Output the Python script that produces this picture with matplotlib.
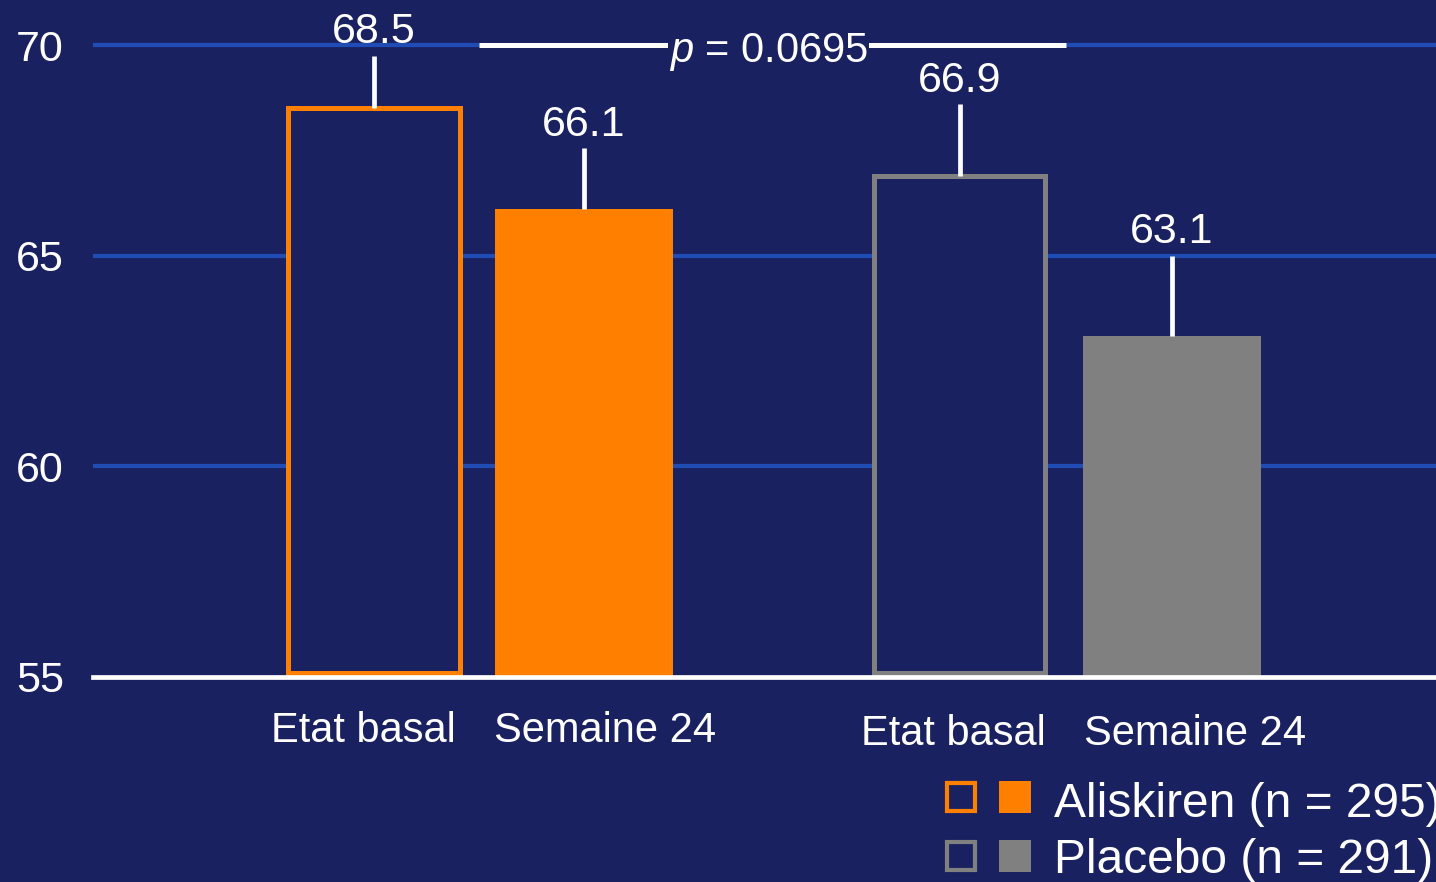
import matplotlib
matplotlib.use("Agg")
import matplotlib.pyplot as plt
from matplotlib.patches import Rectangle

# --- data -------------------------------------------------------------
timepoints = ["Etat basal", "Semaine 24"]
aliskiren_means = [68.5, 66.1]
placebo_means = [66.9, 63.1]
aliskiren_err = [1.25, 1.45]
placebo_err = [1.7, 1.9]
aliskiren_label = "Aliskiren (n = 295)"
placebo_label = "Placebo (n = 291)"
p_text = "$\\it{p}$ = 0.0695"
yticks = [55, 60, 65, 70]

# --- style ------------------------------------------------------------
BG = "#1a2160"
GRID = "#1f4db5"
ORANGE = "#ff8000"
GREY = "#808080"
WHITE = "white"
plt.rcParams["font.family"] = ["Liberation Sans", "DejaVu Sans"]
plt.rcParams["mathtext.fontset"] = "custom"
plt.rcParams["mathtext.it"] = "Liberation Sans:italic"
plt.rcParams["mathtext.rm"] = "Liberation Sans"

W, H = 1436, 882
fig = plt.figure(figsize=(W / 100, H / 100), dpi=100, facecolor=BG)

px_per_unit = 42.13
ax_bottom_px = 677
ax = fig.add_axes([93 / W, (H - ax_bottom_px) / H, 1 - 93 / W, 16 * px_per_unit / H])
ax.set_facecolor(BG)
ax.set_ylim(55, 71)
ax.set_xlim(-1.338, 5.057)

# bar positions: two groups of two
pos_a = [0.0, 1.0]
pos_p = [2.79, 3.8]
w_fill = 0.845
w_open = 0.815

for y in yticks[1:]:
    ax.axhline(y, color=GRID, lw=3.0, zorder=1)

# baseline (open) and week 24 (filled) bars
ax.bar(pos_a[0], aliskiren_means[0] - 55.1, bottom=55.1, width=w_open,
       facecolor=BG, edgecolor=ORANGE, linewidth=3.6, zorder=2)
ax.bar(pos_a[1], aliskiren_means[1] - 55, bottom=55, width=w_fill,
       facecolor=ORANGE, edgecolor="none", zorder=2)
ax.bar(pos_p[0], placebo_means[0] - 55.1, bottom=55.1, width=w_open,
       facecolor=BG, edgecolor=GREY, linewidth=3.6, zorder=2)
ax.bar(pos_p[1], placebo_means[1] - 55, bottom=55, width=w_fill,
       facecolor=GREY, edgecolor="none", zorder=2)

# upper error whiskers and value labels
for xs, means, errs in [(pos_a, aliskiren_means, aliskiren_err),
                        (pos_p, placebo_means, placebo_err)]:
    for x, m, e in zip(xs, means, errs):
        ax.plot([x, x], [m, m + e], color=WHITE, lw=3.4,
                solid_capstyle="butt", zorder=3)
        ax.annotate(f"{m:.1f}", (x, m + e), xytext=(0, 9),
                    textcoords="offset points", ha="center", va="baseline",
                    color=WHITE, fontsize=31, annotation_clip=False)

# significance bracket between the two week-24 changes
x_left = (pos_a[0] + pos_a[1]) / 2
x_right = (pos_p[0] + pos_p[1]) / 2
ax.plot([x_left, x_right], [70, 70], color=WHITE, lw=3.6,
        solid_capstyle="butt", zorder=3, clip_on=False)
ax.text((x_left + x_right) / 2 - 0.02, 70 - 17 / px_per_unit, p_text,
        ha="center", va="baseline", color=WHITE, fontsize=30, zorder=4,
        bbox=dict(boxstyle="square,pad=0.02", facecolor=BG, edgecolor="none"))

# axes styling
for s in ["top", "right", "left"]:
    ax.spines[s].set_visible(False)
ax.spines["bottom"].set_color(WHITE)
ax.spines["bottom"].set_linewidth(3.4)
ax.spines["bottom"].set_zorder(5)
ax.set_yticks(yticks)
ax.set_yticklabels([str(t) for t in yticks])
ax.tick_params(axis="y", length=0, pad=21, labelsize=31, labelcolor=WHITE)
ax.set_xticks([])

# category labels under each bar
label_offsets = [-0.05, 0.1, -0.03, 0.11]
label_y = [53.46, 53.46, 53.39, 53.39]
for x, off, ly, lab in zip(pos_a + pos_p, label_offsets, label_y, timepoints * 2):
    ax.text(x + off, ly, lab, ha="center", va="baseline", color=WHITE,
            fontsize=30, clip_on=False)

# legend: open square = baseline, filled square = week 24
def fig_rect(x0, y0, x1, y1, **kw):
    fig.add_artist(Rectangle((x0 / W, 1 - y1 / H), (x1 - x0) / W, (y1 - y0) / H,
                             transform=fig.transFigure, **kw))

for (y0, y1, col, lab, base) in [(781, 813, ORANGE, aliskiren_label, 817),
                                 (840, 872, GREY, placebo_label, 873)]:
    fig_rect(947, y0 + 2, 975, y1 - 2, facecolor="none", edgecolor=col, linewidth=3.0)
    fig_rect(999, y0, 1031, y1, facecolor=col, edgecolor="none")
    fig.text(1054 / W, 1 - base / H, lab, ha="left", va="baseline",
             color=WHITE, fontsize=34.5)

fig.savefig("out.png", dpi=100, facecolor=BG)
